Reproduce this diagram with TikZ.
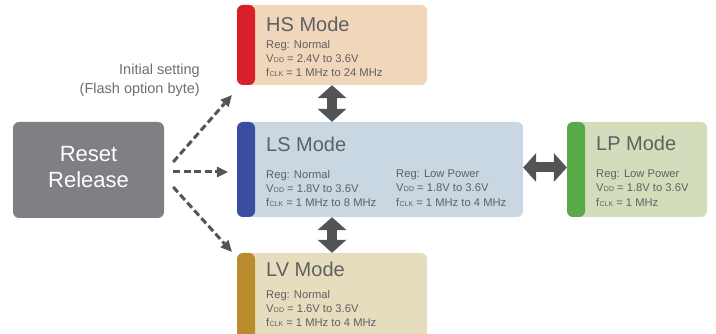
\documentclass[tikz,border=0pt]{standalone}
\usepackage{fontspec}
\setmainfont{Liberation Sans}
\usetikzlibrary{arrows.meta}
\definecolor{resetgray}{HTML}{7F8083}
\definecolor{arrowgray}{HTML}{535456}
\definecolor{textgray}{HTML}{5F6062}
\definecolor{notegray}{HTML}{6D6E71}
\definecolor{hsfill}{HTML}{F0D6BB}
\definecolor{hsbar}{HTML}{D9202A}
\definecolor{lsfill}{HTML}{C8D7E2}
\definecolor{lsbar}{HTML}{3A4E9F}
\definecolor{lpfill}{HTML}{D3DDBC}
\definecolor{lpbar}{HTML}{58AA48}
\definecolor{lvfill}{HTML}{E6DCBE}
\definecolor{lvbar}{HTML}{B98C2E}
\newcommand{\vdd}{V\kern0.3pt{\fontsize{7}{8}\selectfont DD}}
\newcommand{\fclk}{f\kern0.3pt{\fontsize{7}{8}\selectfont CLK}}
\tikzset{
  modebox/.style={fill=#1fill, rounded corners=6pt, inner sep=0pt,
    path picture={\fill[#1bar] (path picture bounding box.north west) rectangle ([xshift=18pt]path picture bounding box.south west);}},
  resetbox/.style={fill=resetgray, rounded corners=6pt, inner sep=0pt},
  resettext/.style={text=white, align=center, inner sep=0pt, font=\fontsize{22}{26}\selectfont},
  modetitle/.style={font=\fontsize{20}{24}\selectfont, text=textgray, inner sep=0pt},
  modetext/.style={font=\fontsize{11.2}{14.2}\selectfont, text=textgray, align=left, inner sep=0pt},
  notelabel/.style={font=\fontsize{14.5}{19}\selectfont, text=notegray, align=right, inner sep=0pt},
  setarrow/.style={draw=arrowgray, line width=3pt, dash pattern=on 7pt off 3.5pt,
    -{Triangle[length=11pt,width=11pt,line width=0pt]}},
  swaparrow/.style={draw=arrowgray, line width=10pt,
    {Triangle[length=13pt,width=29pt,line width=0pt]}-{Triangle[length=13pt,width=29pt,line width=0pt]}},
}
\begin{document}
\begin{tikzpicture}[x=1pt, y=-1pt]
\useasboundingbox (0,0) rectangle (716,334);
\clip (0,0) rectangle (716,334);
% boxes
\node[resetbox, minimum width=151pt, minimum height=96pt] (reset) at (88.5,170) {};
\node[resettext, yshift=3pt] (resetlabel) at (reset) {Reset\\Release};
\node[modebox=hs, minimum width=190pt, minimum height=80pt] (hs) at (332,45) {};
\node[modebox=ls, minimum width=286pt, minimum height=95pt] (ls) at (380,169.5) {};
\node[modebox=lp, minimum width=140pt, minimum height=95pt] (lp) at (637,169.5) {};
\node[modebox=lv, minimum width=190pt, minimum height=92pt] (lv) at (332,299) {};
% texts
\node[modetitle, anchor=base west] (hstitle) at (266,32) {HS Mode};
\node[modetext, anchor=north west] (hstext) at (266,39.7) {Reg: Normal\\\vdd{} = 2.4V to 3.6V\\\fclk{} = 1 MHz to 24 MHz};
\node[modetitle, anchor=base west] (lstitle) at (266,152) {LS Mode};
\node[modetext, anchor=north west] (lsleft) at (266,169.7) {Reg: Normal\\\vdd{} = 1.8V to 3.6V\\\fclk{} = 1 MHz to 8 MHz};
\node[modetext, anchor=north west] (lsright) at (396,169.7) {Reg: Low Power\\\vdd{} = 1.8V to 3.6V\\\fclk{} = 1 MHz to 4 MHz};
\node[modetitle, anchor=base west] (lptitle) at (596,151) {LP Mode};
\node[modetext, anchor=north west] (lptext) at (596,169.7) {Reg: Low Power\\\vdd{} = 1.8V to 3.6V\\\fclk{} = 1 MHz};
\node[modetitle, anchor=base west] (lvtitle) at (266,277) {LV Mode};
\node[modetext, anchor=north west] (lvtext) at (266,289.7) {Reg: Normal\\\vdd{} = 1.6V to 3.6V\\\fclk{} = 1 MHz to 4 MHz};
\node[notelabel, anchor=north east] (initnote) at (200,64.2) {Initial setting\\(Flash option byte)};
% arrows
\draw[setarrow] ([xshift=9pt,yshift=8pt]reset.east) -- ([xshift=-5pt,yshift=-10pt]hs.south west);
\draw[setarrow] ([xshift=9pt,yshift=-2pt]reset.east) -- ([xshift=-9pt,yshift=-2pt]reset.east -| ls.west);
\draw[setarrow] ([xshift=9pt,yshift=-17pt]reset.east) -- ([xshift=-5pt,yshift=1pt]lv.north west);
\draw[swaparrow] (hs.south) -- (hs.south |- ls.north);
\draw[swaparrow] (lv.north |- ls.south) -- (lv.north);
\draw[swaparrow] ([yshift=2pt]ls.east) -- ([yshift=2pt]ls.east -| lp.west);
\end{tikzpicture}
\end{document}
